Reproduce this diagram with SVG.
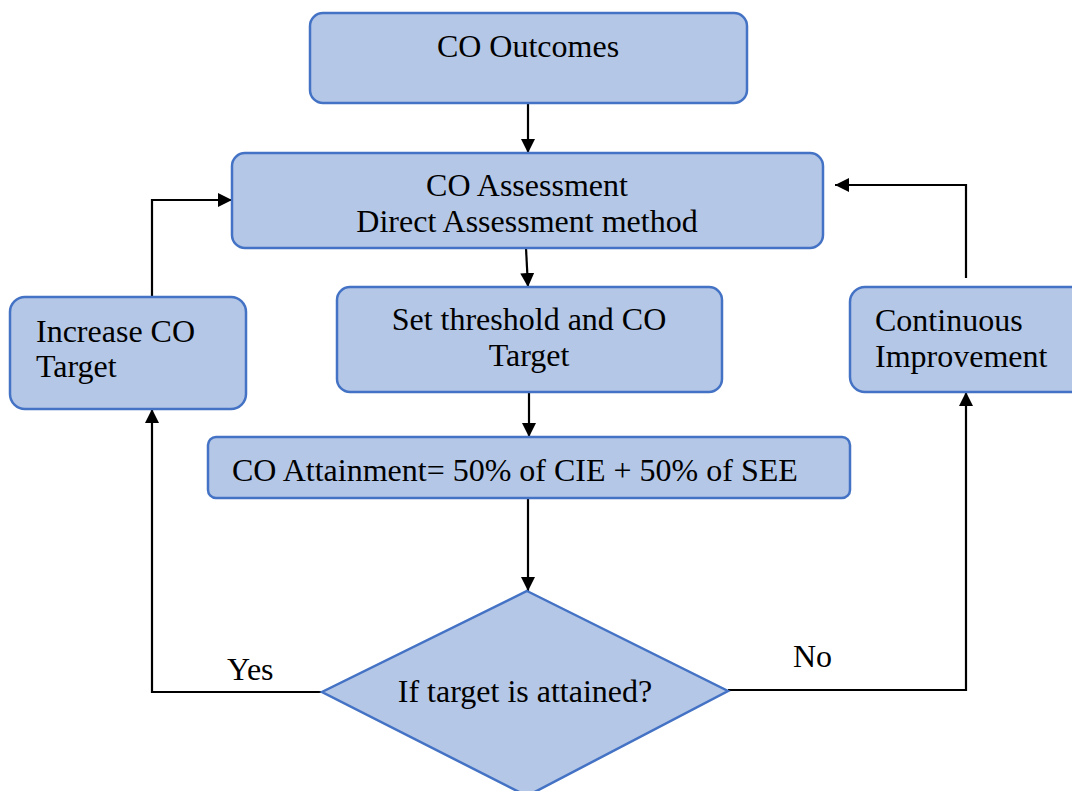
<svg xmlns="http://www.w3.org/2000/svg" width="1072" height="791" viewBox="0 0 1072 791">
  <style>
    .box { fill: #B4C7E7; stroke: #4472C4; stroke-width: 2.5; }
    .lbl { font-family: "Liberation Serif", "Times New Roman", serif; font-size: 32px; fill: #000; }
    .mid { text-anchor: middle; }
    .conn { fill: none; stroke: #000; stroke-width: 2.2; }
  </style>
  <defs>
    <marker id="arrow" markerUnits="userSpaceOnUse" markerWidth="16" markerHeight="16" refX="14" refY="7" orient="auto">
      <path d="M0,0 L14,7 L0,14 Z" fill="#000"/>
    </marker>
  </defs>
  <rect width="1072" height="791" fill="#fff"/>

  <g id="connectors">
    <line class="conn" x1="528" y1="103" x2="528" y2="153" marker-end="url(#arrow)"/>
    <line class="conn" x1="526" y1="248" x2="528" y2="287" marker-end="url(#arrow)"/>
    <line class="conn" x1="529" y1="392" x2="529" y2="437" marker-end="url(#arrow)"/>
    <line class="conn" x1="528" y1="498" x2="528" y2="591" marker-end="url(#arrow)"/>
    <polyline class="conn" points="152,297 152,200 232,200" marker-end="url(#arrow)"/>
    <polyline class="conn" points="966,278 966,185 835,185" marker-end="url(#arrow)"/>
    <polyline class="conn" points="322,692 152,692 152,409" marker-end="url(#arrow)"/>
    <polyline class="conn" points="728,690 966,690 966,392" marker-end="url(#arrow)"/>
  </g>

  <g id="co-outcomes">
    <rect class="box" x="310" y="13" width="437" height="90" rx="13"/>
    <text class="lbl mid" x="528" y="57">CO Outcomes</text>
  </g>

  <g id="co-assessment">
    <rect class="box" x="232" y="153" width="591" height="95" rx="13"/>
    <text class="lbl mid" x="527" y="196">CO Assessment</text>
    <text class="lbl mid" x="527" y="232">Direct Assessment method</text>
  </g>

  <g id="set-threshold">
    <rect class="box" x="337" y="287" width="385" height="105" rx="13"/>
    <text class="lbl mid" x="529" y="330">Set threshold and CO</text>
    <text class="lbl mid" x="529" y="366">Target</text>
  </g>

  <g id="increase-target">
    <rect class="box" x="10" y="297" width="236" height="112" rx="15"/>
    <text class="lbl" x="36" y="342">Increase CO</text>
    <text class="lbl" x="36" y="377">Target</text>
  </g>

  <g id="continuous-improvement">
    <rect class="box" x="850" y="287" width="236" height="105" rx="15"/>
    <text class="lbl" x="875" y="331">Continuous</text>
    <text class="lbl" x="875" y="367">Improvement</text>
  </g>

  <g id="co-attainment">
    <rect class="box" x="208" y="437" width="642" height="61" rx="8"/>
    <text class="lbl" x="232" y="481">CO Attainment= 50% of CIE + 50% of SEE</text>
  </g>

  <g id="decision">
    <polygon class="box" points="527,591 728,691 527,796 322,692"/>
    <text class="lbl mid" x="525" y="702">If target is attained?</text>
  </g>

  <g id="branch-labels">
    <text class="lbl" x="227" y="680">Yes</text>
    <text class="lbl" x="793" y="667">No</text>
  </g>
</svg>
